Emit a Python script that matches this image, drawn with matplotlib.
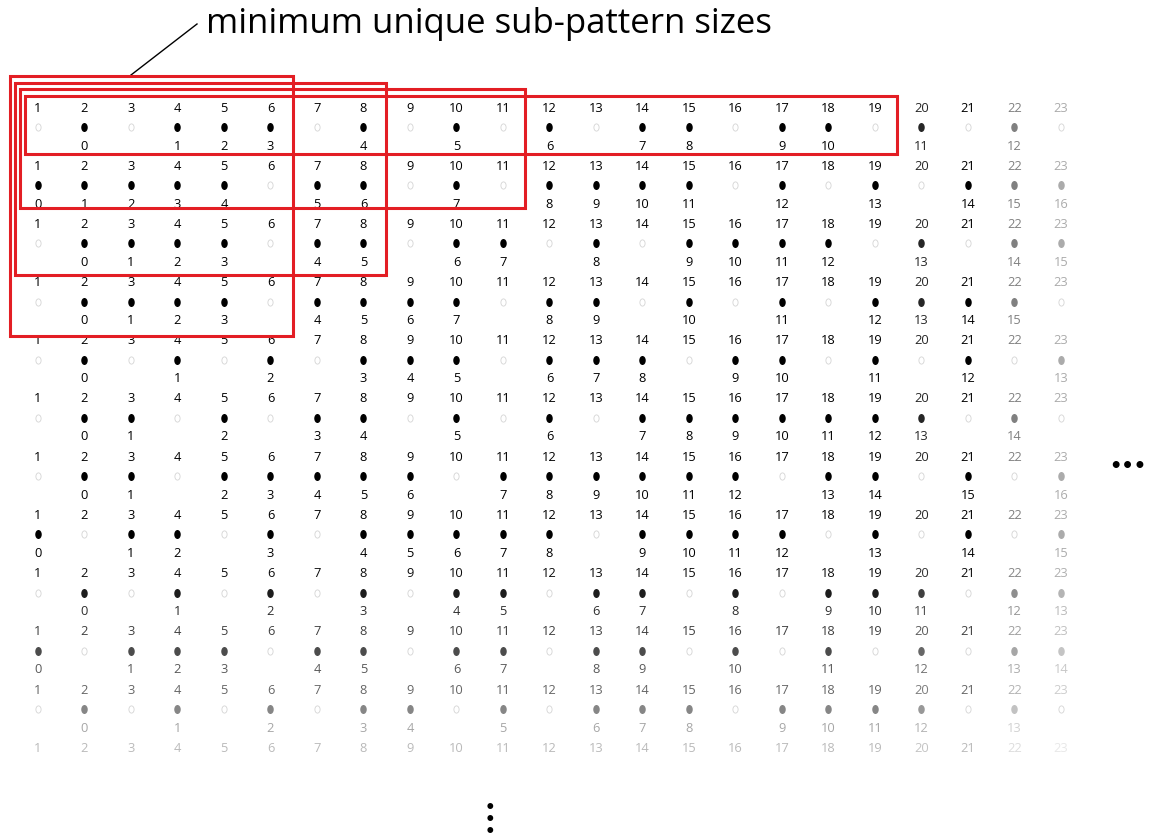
import numpy as np
import matplotlib
matplotlib.use("Agg")
from matplotlib import pyplot as plt
from matplotlib.path import Path
from matplotlib.patches import Rectangle

plt.rcParams['font.family'] = ['Open Sans', 'DejaVu Sans']

# each row: 1 = filled dot, 0 = open dot, for positions 1..23
patterns = [
    "01011101010101101101010",
    "11111011010111101010111",
    "01111011011010111101011",
    "01111011110110101011110",
    "01010101110111011010101",
    "01101011010101111111010",
    "01101111101111110110101",
    "10110101111101111010101",
    "01010101011011010111011",
    "10111011011011010101011",
    "01010101101011101111010",
]
positions = list(range(1, 24))
# boxes: (rows covered, last position inside)
boxes = [(4, 6), (3, 8), (2, 11), (1, 19)]
title = "minimum unique sub-pattern sizes"

# layout in pixels
x0, dx = 38, 46.5
y0, dy = 108, 58.2
red = "#e31e24"

col_dark = np.ones(23)
col_dark[19] = 0.85
col_dark[21] = 0.5
col_dark[22] = 0.33


def row_dark(y):
    return np.interp(y, [560, 632, 690, 728, 748], [1, 0.75, 0.6, 0.35, 0.27])


def shade(y, ci):
    d = row_dark(y) * col_dark[ci]
    return str(1 - d)


circ = Path.unit_circle()
ell = Path(circ.vertices * [0.72, 1.0], circ.codes)

fig = plt.figure(figsize=(11.51, 8.39), dpi=100)
ax = fig.add_axes([0, 0, 1, 1])
ax.set_xlim(0, 1151)
ax.set_ylim(839, 0)
ax.axis('off')

xs = x0 + dx * (np.array(positions) - 1)

for r in range(len(patterns) + 1):
    yn = y0 + r * dy
    for ci, p in enumerate(positions):
        ax.text(xs[ci], yn, str(p), ha='center', va='center', fontsize=9.3,
                color=shade(yn, ci))
    if r >= len(patterns):
        continue
    bits = np.array([int(b) for b in patterns[r]])
    counts = np.cumsum(bits) - 1
    yd, yc = yn + 19, yn + 38
    for ci in range(23):
        if bits[ci]:
            ax.plot(xs[ci], yd, marker=ell, ms=6.5, color=shade(yd, ci),
                    mec='none', ls='none')
            ax.text(xs[ci], yc, str(counts[ci]), ha='center', va='center',
                    fontsize=9.3, color=shade(yc, ci))
        else:
            ax.plot(xs[ci], yd, marker=ell, ms=5.2, mfc='none', mec='#d4d4d4',
                    mew=0.6, ls='none')

# red boxes around the repeating sub-patterns
bottoms_pad = {1: 8, 2: 4, 3: 13, 4: 15}
for n, last in boxes:
    left = 10 + 5 * (4 - n)
    top = 76 + 6.7 * (4 - n)
    right = x0 + dx * (last - 0.5) - 1
    bottom = y0 + (n - 1) * dy + 38 + bottoms_pad[n]
    ax.add_patch(Rectangle((left, top), right - left, bottom - top,
                           fill=False, ec=red, lw=2.2, zorder=5))

ax.text(206, 24, title, ha='left', va='center', fontsize=25, color='black')
ax.plot([197, 131], [24, 75], color='black', lw=1)

ax.text(1128, 467, "•••", ha='center', va='center', fontsize=14,
        fontweight='bold', color='black', family='DejaVu Sans')
ax.text(490, 820, "•\n•\n•", ha='center', va='center', fontsize=12,
        fontweight='bold', color='black', linespacing=0.55,
        family='DejaVu Sans')

fig.savefig("out.png", dpi=100)
